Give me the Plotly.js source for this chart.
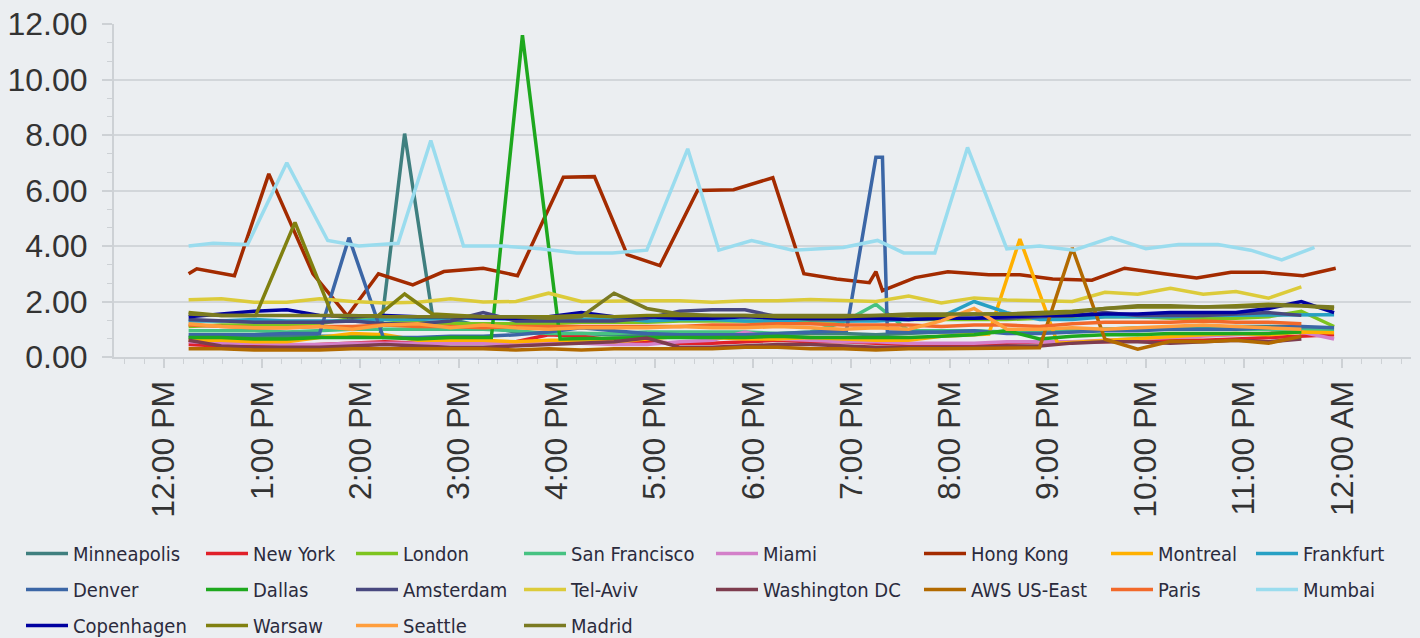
<!DOCTYPE html>
<html>
<head>
<meta charset="utf-8">
<script src="https://cdn.plot.ly/plotly-3.0.1.min.js"></script>
<style>
html,body{margin:0;padding:0;background:#ebeef1;}
#chart{width:1420px;height:638px;}
</style>
</head>
<body>
<div id="chart"></div>
<script>
// ---------- DATA ----------
const seriesNames = ["Minneapolis","New York","London","San Francisco","Miami","Hong Kong","Montreal","Frankfurt",
  "Denver","Dallas","Amsterdam","Tel-Aviv","Washington DC","AWS US-East","Paris","Mumbai",
  "Copenhagen","Warsaw","Seattle","Madrid"];

const gridTimes = ["12:15","12:35","12:55","13:15","13:35","13:55","14:15","14:35","14:55","15:15","15:35","15:55",
  "16:15","16:35","16:55","17:15","17:35","17:55","18:15","18:35","18:55","19:15","19:35","19:55",
  "20:15","20:35","20:55","21:15","21:35","21:55","22:15","22:35","22:55","23:15","23:35","23:55"];

const minneapolisTimes = ["12:15","12:35","12:55","13:15","13:35","13:55","14:12","14:27","14:44","15:15","15:35","15:55",
  "16:15","16:35","16:55","17:15","17:35","17:55","18:15","18:35","18:55","19:15","19:35","19:55",
  "20:15","20:35","20:55","21:15","21:35","21:55","22:15","22:35","22:55","23:15","23:35"];
const minneapolis = [0.7,0.7,0.75,0.75,0.75,0.75,0.75,8.05,1.5,1.1,0.9,0.85,0.85,0.8,0.8,0.85,0.85,0.8,0.8,0.85,
  0.85,0.8,0.85,0.9,0.9,0.9,0.9,0.95,1.0,1.0,1.05,1.05,1.1,1.1,1.1];

const newYork = [0.45,0.4,0.4,0.4,0.45,0.5,0.55,0.5,0.5,0.5,0.55,0.8,0.75,0.6,0.55,0.5,0.5,0.55,0.6,0.55,
  0.55,0.5,0.45,0.45,0.45,0.5,0.55,0.55,0.55,0.6,0.6,0.6,0.65,0.7,0.75,0.8];
const london = [1.1,1.15,1.15,1.15,1.2,1.4,1.35,1.25,1.2,1.2,1.2,1.2,1.25,1.25,1.25,1.3,1.3,1.3,1.3,1.3,
  1.3,1.35,1.35,1.35,1.35,1.35,1.4,1.45,1.45,1.45,1.4,1.4,1.4,1.45,1.65,1.1];
const sanFrancisco = [0.95,0.95,0.95,0.9,0.95,1.0,1.0,1.0,1.0,1.0,0.95,0.85,0.85,0.85,0.9,0.9,0.9,0.9,0.85,0.9,
  1.25,1.9,0.95,0.95,0.95,0.9,0.95,0.95,1.0,1.05,1.05,1.05,1.0,1.0,1.0,1.0];
const miami = [0.55,0.5,0.5,0.45,0.45,0.5,0.5,0.5,0.5,0.5,0.5,0.5,0.5,0.45,0.45,0.55,0.6,0.9,0.65,0.6,
  0.55,0.55,0.5,0.5,0.5,0.55,0.55,0.55,0.6,0.65,0.7,0.75,0.8,0.85,0.9,0.65];

const hongKongTimes = ["12:15","12:20","12:43","13:04","13:31","13:52","14:11","14:32","14:51","15:15","15:36","16:04",
  "16:23","16:43","17:03","17:26","17:48","18:12","18:31","18:51","19:11","19:15","19:19","19:39",
  "19:59","20:24","20:43","21:03","21:27","21:47","22:11","22:31","22:52","23:12","23:36","23:56"];
const hongKong = [3.0,3.18,2.93,6.6,3.0,1.48,3.0,2.6,3.08,3.2,2.93,6.48,6.5,3.69,3.29,6.0,6.03,6.46,3.0,2.81,
  2.68,3.08,2.39,2.86,3.07,2.96,2.96,2.81,2.77,3.2,3.0,2.85,3.05,3.05,2.93,3.2];

const montrealTimes = ["12:15","12:35","12:55","13:15","13:35","13:55","14:15","14:35","14:55","15:15","15:35","15:55",
  "16:15","16:35","16:55","17:15","17:35","17:55","18:15","18:35","18:55","19:15","19:35","19:55",
  "20:24","20:43","21:06","21:35","21:55","22:15","22:35","22:55","23:15","23:35","23:55"];
const montreal = [0.6,0.6,0.55,0.55,0.7,0.85,0.8,0.6,0.6,0.6,0.55,0.6,0.6,0.55,0.65,0.75,0.7,0.65,0.65,0.7,
  0.65,0.6,0.6,0.75,0.83,4.25,0.5,0.6,0.65,0.75,0.8,0.85,0.8,0.9,0.87];

const frankfurt = [1.3,1.3,1.35,1.3,1.3,1.3,1.35,1.35,1.4,1.4,1.35,1.4,1.35,1.4,1.3,1.35,1.35,1.3,1.3,1.35,
  1.3,1.3,1.35,1.45,2.0,1.6,1.35,1.35,1.45,1.45,1.45,1.5,1.5,1.5,1.5,1.52];

const denverTimes = ["12:15","12:35","12:55","13:15","13:35","13:53","14:14","14:35","14:55","15:15","15:35","15:55",
  "16:15","16:35","16:55","17:15","17:35","17:55","18:15","18:35","18:57","19:15","19:19","19:22",
  "19:35","19:55","20:15","20:35","20:55","21:15","21:35","21:55","22:15","22:35","22:55","23:15","23:35","23:55"];
const denver = [0.8,0.8,0.8,0.85,0.85,4.3,0.7,0.7,0.75,0.75,0.8,0.9,1.05,0.95,0.85,0.8,0.8,0.8,0.85,0.9,
  0.95,7.2,7.2,0.9,0.9,0.9,0.95,0.85,0.85,0.9,0.95,0.95,1.0,1.0,1.0,1.05,1.1,1.05];

const dallasTimes = ["12:15","12:35","12:55","13:15","13:35","13:55","14:15","14:35","14:55","15:20","15:39","16:02",
  "16:35","16:55","17:15","17:35","17:55","18:15","18:35","18:55","19:15","19:35","19:55","20:15",
  "20:35","20:55","21:15","21:35","21:55","22:15","22:35","22:55","23:15","23:35"];
const dallas = [0.7,0.7,0.65,0.65,0.7,0.7,0.7,0.65,0.7,0.7,11.6,0.65,0.7,0.7,0.7,0.7,0.7,0.75,0.7,0.7,
  0.7,0.7,0.75,0.8,0.95,0.65,0.75,0.8,0.8,0.85,0.85,0.85,0.85,0.9];

const amsterdam = [1.35,1.3,1.25,1.25,1.25,1.3,1.2,1.2,1.3,1.6,1.3,1.3,1.3,1.3,1.4,1.65,1.7,1.7,1.45,1.35,
  1.35,1.4,1.35,1.4,1.4,1.4,1.45,1.5,1.6,1.5,1.5,1.5,1.55,1.6,1.5,null];
const telAviv = [2.06,2.1,1.97,1.97,2.1,2.0,1.95,1.97,2.1,1.98,2.0,2.3,2.0,2.03,2.03,2.03,1.97,2.03,2.03,2.07,
  2.05,2.0,2.2,1.95,2.13,2.05,2.03,2.0,2.33,2.26,2.48,2.26,2.36,2.12,2.53,null];
const washingtonDC = [0.6,0.4,0.35,0.35,0.35,0.4,0.45,0.4,0.35,0.35,0.4,0.45,0.5,0.55,0.68,0.35,0.35,0.4,0.45,0.45,
  0.4,0.35,0.35,0.35,0.35,0.4,0.4,0.5,0.55,0.55,0.5,0.55,0.6,0.55,0.65,null];
const awsUsEast = [0.3,0.3,0.25,0.25,0.25,0.3,0.3,0.3,0.3,0.3,0.25,0.3,0.25,0.3,0.3,0.3,0.3,0.35,0.35,0.3,
  0.3,0.25,0.3,0.3,0.3,0.3,0.33,3.93,0.64,0.28,0.57,0.55,0.6,0.5,0.75,null];
const paris = [1.15,1.1,1.05,1.05,1.1,1.1,1.15,1.1,1.1,1.05,1.1,1.1,1.1,1.1,1.1,1.1,1.15,1.15,1.2,1.2,
  1.15,1.15,1.15,1.1,1.15,1.15,1.1,1.2,1.25,1.25,1.25,1.3,1.25,1.25,1.2,null];

const mumbaiTimes = ["12:15","12:30","12:51","13:15","13:40","13:59","14:23","14:43","15:03","15:27","15:50","16:12",
  "16:34","16:55","17:20","17:39","17:59","18:24","18:55","19:16","19:32","19:51","20:11","20:35",
  "20:55","21:16","21:39","22:00","22:20","22:44","23:04","23:23","23:43"];
const mumbai = [4.0,4.1,4.05,7.0,4.2,4.0,4.1,7.8,4.0,4.0,3.9,3.75,3.75,3.85,7.5,3.85,4.2,3.85,3.95,4.2,
  3.75,3.75,7.55,3.9,4.0,3.85,4.3,3.9,4.05,4.05,3.85,3.5,3.95];

const copenhagen = [1.45,1.55,1.65,1.7,1.5,1.45,1.5,1.45,1.45,1.4,1.4,1.45,1.6,1.45,1.45,1.4,1.4,1.45,1.4,1.4,
  1.4,1.4,1.35,1.4,1.4,1.45,1.5,1.5,1.55,1.55,1.6,1.6,1.6,1.75,2.0,1.6];

const warsawTimes = ["12:15","12:35","12:56","13:20","13:43","14:11","14:27","14:44","15:15","15:35","15:55","16:15",
  "16:35","16:55","17:15","17:35","17:55","18:15","18:35","18:55","19:15","19:35","19:55","20:15",
  "20:35","20:55","21:15","21:35","21:55","22:15","22:35","22:55","23:15","23:35","23:55"];
const warsaw = [1.6,1.5,1.5,4.85,1.48,1.5,2.27,1.55,1.45,1.45,1.45,1.5,1.45,1.5,1.5,1.5,1.5,1.45,1.45,1.45,
  1.5,1.5,1.5,1.55,1.55,1.6,1.65,1.75,1.8,1.8,1.8,1.85,1.9,1.85,1.75];

const seattle = [1.2,1.1,1.05,1.05,1.1,1.0,1.15,1.2,1.05,1.15,1.05,1.0,1.05,1.05,1.05,1.1,1.05,1.05,1.1,1.05,
  1.0,1.05,1.0,1.3,1.75,1.0,1.0,1.05,1.0,1.05,1.1,1.15,1.1,1.05,1.0,null];
const madrid = [1.55,1.5,1.5,1.5,1.5,1.5,1.45,1.45,1.45,1.45,1.45,1.4,1.45,2.3,1.75,1.55,1.5,1.5,1.5,1.5,
  1.5,1.5,1.55,1.55,1.55,1.55,1.55,1.6,1.75,1.85,1.85,1.8,1.8,1.85,1.85,1.8];

const hourTicks = ["12:00","13:00","14:00","15:00","16:00","17:00","18:00","19:00","20:00","21:00","22:00","23:00","00:00"];
const hourLabels = ["12:00 PM","1:00 PM","2:00 PM","3:00 PM","4:00 PM","5:00 PM","6:00 PM","7:00 PM","8:00 PM","9:00 PM","10:00 PM","11:00 PM","12:00 AM"];

// ---------- STYLE ----------
const colors = ["#3f7f7f","#e0202a","#7dc41f","#46c282","#d37fc9","#a32b00","#ffb000","#27a0c4",
  "#3b66a6","#1ea81e","#48487f","#dccb3a","#7d3c4e","#b26a00","#f2692a","#9adcee",
  "#0000a0","#808010","#ff9e3d","#7a7a22"];

const seriesData = [
  [minneapolisTimes, minneapolis],[gridTimes,newYork],[gridTimes,london],[gridTimes,sanFrancisco],
  [gridTimes,miami],[hongKongTimes,hongKong],[montrealTimes,montreal],[gridTimes,frankfurt],
  [denverTimes,denver],[dallasTimes,dallas],[gridTimes,amsterdam],[gridTimes,telAviv],
  [gridTimes,washingtonDC],[gridTimes,awsUsEast],[gridTimes,paris],[mumbaiTimes,mumbai],
  [gridTimes,copenhagen],[warsawTimes,warsaw],[gridTimes,seattle],[gridTimes,madrid]
];

function toDate(hm, nextDay){ return (nextDay ? "2024-01-02 " : "2024-01-01 ") + hm; }

const traces = seriesData.map((sd, i) => {
  const col = i % 8;
  return {
    type: "scatter", mode: "lines", name: seriesNames[i],
    x: sd[0].map(t => toDate(t)), y: sd[1],
    line: {color: colors[i], width: 3.5},
    legend: col === 0 ? "legend" : "legend" + (col + 1),
    legendgroup: "g" + i,
    connectgaps: false
  };
});

const legendColPx = [21, 201, 351, 519, 711, 919, 1106, 1251];
const legendTop = 534;

const layout = {
  width: 1420, height: 638,
  paper_bgcolor: "#ebeef1", plot_bgcolor: "#ebeef1",
  margin: {l: 114, r: 9, t: 24, b: 281, pad: 0, autoexpand: false},
  showlegend: true,
  font: {family: "Liberation Sans, Arial, sans-serif", color: "#333333"},
  xaxis: {
    type: "date",
    range: [toDate("11:29:24"), toDate("00:42:00", true)],
    tickmode: "array",
    tickvals: hourTicks.map((t, i) => toDate(t, i === hourTicks.length - 1)),
    ticktext: hourLabels,
    tickangle: -90,
    tickfont: {size: 32, color: "#333333", family: "Liberation Sans, Arial, sans-serif"},
    ticks: "outside", ticklen: 9, tickwidth: 2, tickcolor: "#cdd1d5",
    minor: {dtick: 720000, tick0: toDate("12:00"), ticks: "outside", ticklen: 5, tickwidth: 1, tickcolor: "#cdd1d5"},
    showgrid: false, zeroline: false,
    showline: true, linecolor: "#cdd1d5", linewidth: 2,
    ticklabelstandoff: 0,
    automargin: false, fixedrange: true
  },
  yaxis: {
    range: [0, 12],
    dtick: 2, tick0: 0,
    tickformat: ".2f",
    tickfont: {size: 32, color: "#333333", family: "Liberation Sans, Arial, sans-serif"},
    ticks: "outside", ticklen: 10, tickwidth: 2, tickcolor: "#cdd1d5",
    minor: {dtick: 2/3, tick0: 0, ticks: "outside", ticklen: 5, tickwidth: 1, tickcolor: "#cdd1d5", showgrid: false},
    showgrid: true, gridcolor: "#d2d6da", gridwidth: 2,
    zeroline: false,
    showline: true, linecolor: "#cdd1d5", linewidth: 2,
    ticklabelstandoff: 8,
    automargin: false, fixedrange: true
  }
};

legendColPx.forEach((px, c) => {
  const key = c === 0 ? "legend" : "legend" + (c + 1);
  layout[key] = {
    orientation: "v",
    x: px / 1420, xref: "container", xanchor: "left",
    y: 1 - legendTop / 638, yref: "container", yanchor: "top",
    bgcolor: "rgba(0,0,0,0)", borderwidth: 0,
    font: {family: "DejaVu Sans Condensed, DejaVu Sans, sans-serif", size: 20, color: "#2b2b3d"},
    itemwidth: 42, tracegroupgap: 7,
    itemclick: false, itemdoubleclick: false
  };
});

Plotly.newPlot("chart", traces, layout, {displayModeBar: false, staticPlot: true});
</script>
</body>
</html>
